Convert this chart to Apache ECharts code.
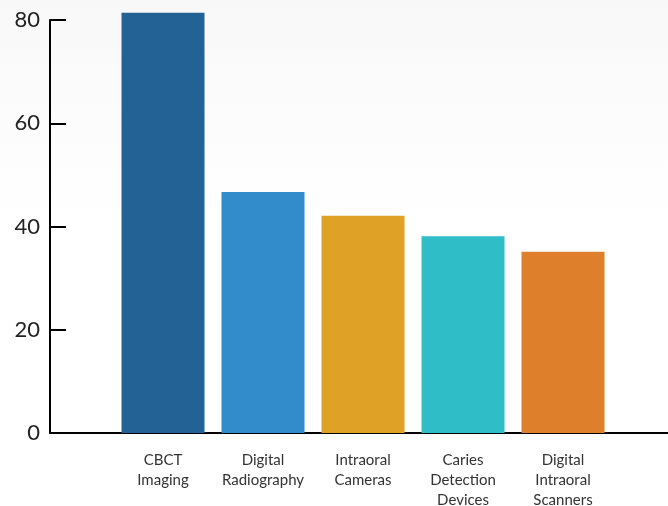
<!DOCTYPE html>
<html>
<head>
<meta charset="utf-8">
<script src="https://cdn.jsdelivr.net/npm/echarts@6/dist/echarts.min.js"></script>
<style>
  html, body { margin: 0; padding: 0; background: #fff; }
  #chart { width: 668px; height: 506px; }
</style>
</head>
<body>
<div id="chart"></div>
<script>
// data
var categories = ['CBCT\nImaging', 'Digital\nRadiography', 'Intraoral\nCameras', 'Caries\nDetection\nDevices', 'Digital\nIntraoral\nScanners']
var values = [81.4, 46.7, 42.1, 38.1, 35.1]
var barColors = ['#236295', '#328bca', '#dfa227', '#2fbdc7', '#de7f2b']
var yTicks = [0, 20, 40, 60, 80]

var chart = echarts.init(document.getElementById('chart'))

var option = {
  backgroundColor: {
    type: 'linear', x: 0, y: 0, x2: 0, y2: 1,
    colorStops: [
      { offset: 0, color: '#f8f8f8' },
      { offset: 0.3, color: '#fdfdfd' },
      { offset: 0.45, color: '#ffffff' }
    ]
  },
  animation: false,
  grid: [
    { left: 113, right: 55, top: 20, bottom: 73, outerBoundsMode: 'none', containLabel: false },
    // only used to draw the long x axis line
    { left: 50, right: 0, top: 20, bottom: 73, outerBoundsMode: 'none', containLabel: false }
  ],
  xAxis: [
    {
      type: 'category',
      gridIndex: 0,
      data: categories,
      axisLine: { show: false },
      axisTick: { show: false },
      axisLabel: {
        interval: 0,
        margin: 17,
        fontFamily: 'Lato',
        fontSize: 15,
        lineHeight: 20,
        color: '#333'
      }
    },
    {
      type: 'value',
      gridIndex: 1,
      axisLine: { show: true, lineStyle: { color: '#000', width: 2 } },
      axisTick: { show: false },
      axisLabel: { show: false },
      splitLine: { show: false }
    }
  ],
  yAxis: [
    {
      type: 'value',
      gridIndex: 0,
      min: yTicks[0],
      max: yTicks[yTicks.length - 1],
      interval: 20,
      offset: 63,
      axisLine: { show: true, lineStyle: { color: '#000', width: 2 } },
      axisTick: { show: true, inside: true, length: 16, lineStyle: { color: '#000', width: 2 } },
      axisLabel: { margin: 10, fontFamily: 'Lato', fontSize: 22, color: '#222' },
      splitLine: { show: false }
    },
    { type: 'value', gridIndex: 1, show: false }
  ],
  series: [
    {
      type: 'bar',
      xAxisIndex: 0,
      yAxisIndex: 0,
      clip: false,
      barWidth: 83,
      data: values.map(function (v, i) {
        return { value: v, itemStyle: { color: barColors[i] } }
      })
    }
  ]
}

chart.setOption(option)
</script>
</body>
</html>
